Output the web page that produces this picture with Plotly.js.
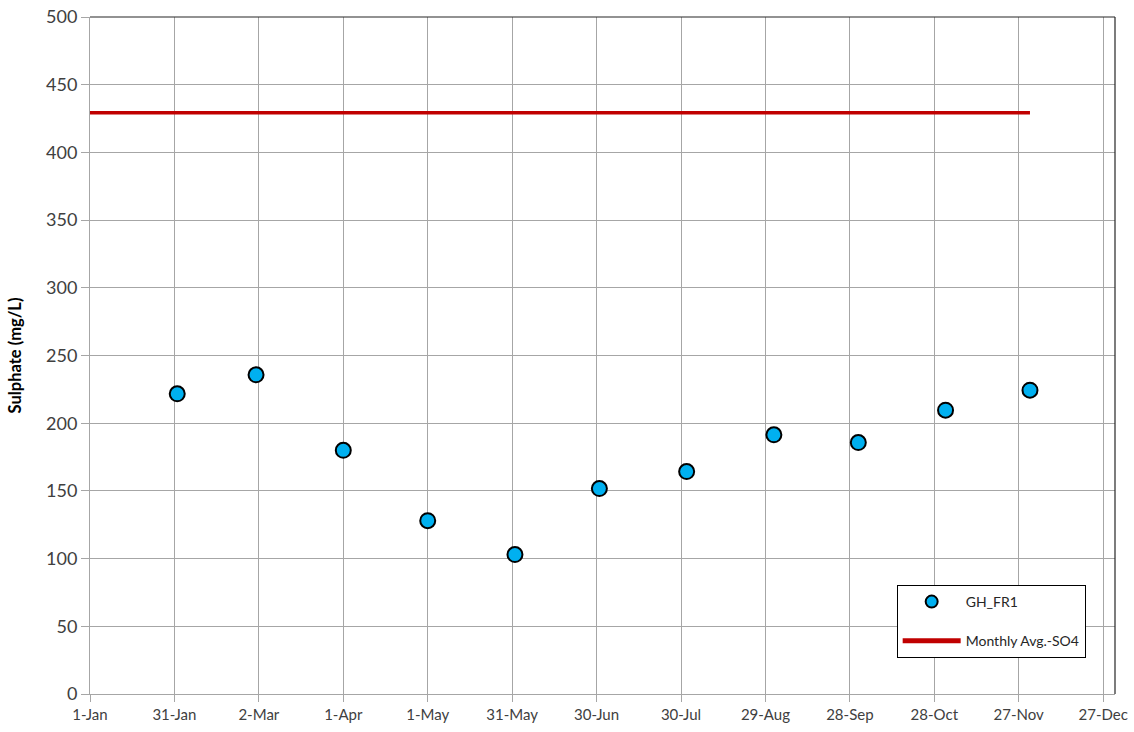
<!DOCTYPE html>
<html>
<head>
<meta charset="utf-8">
<script src="https://cdn.plot.ly/plotly-3.0.1.min.js"></script>
<style>html,body{margin:0;padding:0;background:#fff;}</style>
</head>
<body>
<div id="chart" style="width:1134px;height:732px;"></div>
<script>
// Sample dates and sulphate concentrations (GH_FR1)
const sampleDates = ['2019-02-01','2019-03-01','2019-04-01','2019-05-01','2019-06-01','2019-07-01','2019-08-01','2019-09-01','2019-10-01','2019-11-01','2019-12-01'];
const sulphate = [221.7, 235.7, 180, 128, 103, 151.7, 164.3, 191.4, 185.7, 209.6, 224.4];

// Monthly average SO4 reference line
const avgDates = ['2019-01-01','2019-12-01'];
const avgSO4 = [429.3, 429.3];

// Axis ticks
const tickDates = ['2019-01-01','2019-01-31','2019-03-02','2019-04-01','2019-05-01','2019-05-31','2019-06-30','2019-07-30','2019-08-29','2019-09-28','2019-10-28','2019-11-27','2019-12-27'];
const tickLabels = ['1-Jan','31-Jan','2-Mar','1-Apr','1-May','31-May','30-Jun','30-Jul','29-Aug','28-Sep','28-Oct','27-Nov','27-Dec'];
const yTicks = [0,50,100,150,200,250,300,350,400,450,500];

const FONT = 'Lato, "Open Sans", sans-serif';

const traces = [
  {
    x: sampleDates, y: sulphate, type: 'scatter', mode: 'markers', name: 'GH_FR1',
    legendgroup: 'a',
    marker: {color: '#00B0F0', size: 15, line: {color: '#000000', width: 2}}
  },
  {
    x: avgDates, y: avgSO4, type: 'scatter', mode: 'lines', name: 'Monthly Avg.-SO4',
    legendgroup: 'b',
    line: {color: '#C00000', width: 3.5}
  }
];

const layout = {
  width: 1134, height: 732,
  margin: {l: 89.5, r: 19, t: 17, b: 38},
  paper_bgcolor: '#ffffff', plot_bgcolor: '#ffffff',
  font: {family: FONT, color: '#404040'},
  showlegend: true,
  legend: {
    x: 0.787, y: 0.161, xanchor: 'left', yanchor: 'top',
    bgcolor: '#ffffff', bordercolor: '#000000', borderwidth: 1,
    font: {family: FONT, size: 14, color: '#262626'},
    traceorder: 'grouped', tracegroupgap: 18, itemsizing: 'constant', itemwidth: 58
  },
  xaxis: {
    type: 'date',
    range: ['2019-01-01', '2019-12-31 05:00'],
    tickmode: 'array', tickvals: tickDates, ticktext: tickLabels,
    tickfont: {family: FONT, size: 15, color: '#404040'},
    showgrid: true, gridcolor: '#a6a6a6', gridwidth: 1,
    showline: true, linecolor: '#a6a6a6', linewidth: 1,
    ticks: 'outside', ticklen: 7, tickcolor: '#a6a6a6',
    zeroline: false, fixedrange: true
  },
  yaxis: {
    range: [0, 500],
    tickmode: 'array', tickvals: yTicks,
    tickfont: {family: FONT, size: 18, color: '#404040'},
    title: {text: '<b>Sulphate (mg/L)</b>', font: {family: FONT, size: 16.5, color: '#000000'}, standoff: 20},
    showgrid: true, gridcolor: '#a6a6a6', gridwidth: 1,
    showline: true, linecolor: '#a6a6a6', linewidth: 1,
    ticks: 'outside', ticklen: 8, tickcolor: '#a6a6a6',
    zeroline: false, fixedrange: true
  },
  shapes: [
    {type: 'line', xref: 'paper', yref: 'paper', x0: 0, x1: 1, y0: 1, y1: 1, line: {color: '#262626', width: 1.2}},
    {type: 'line', xref: 'paper', yref: 'paper', x0: 1, x1: 1, y0: 0, y1: 1, line: {color: '#262626', width: 1.2}}
  ]
};

Plotly.newPlot('chart', traces, layout, {displayModeBar: false, staticPlot: true});
</script>
</body>
</html>
